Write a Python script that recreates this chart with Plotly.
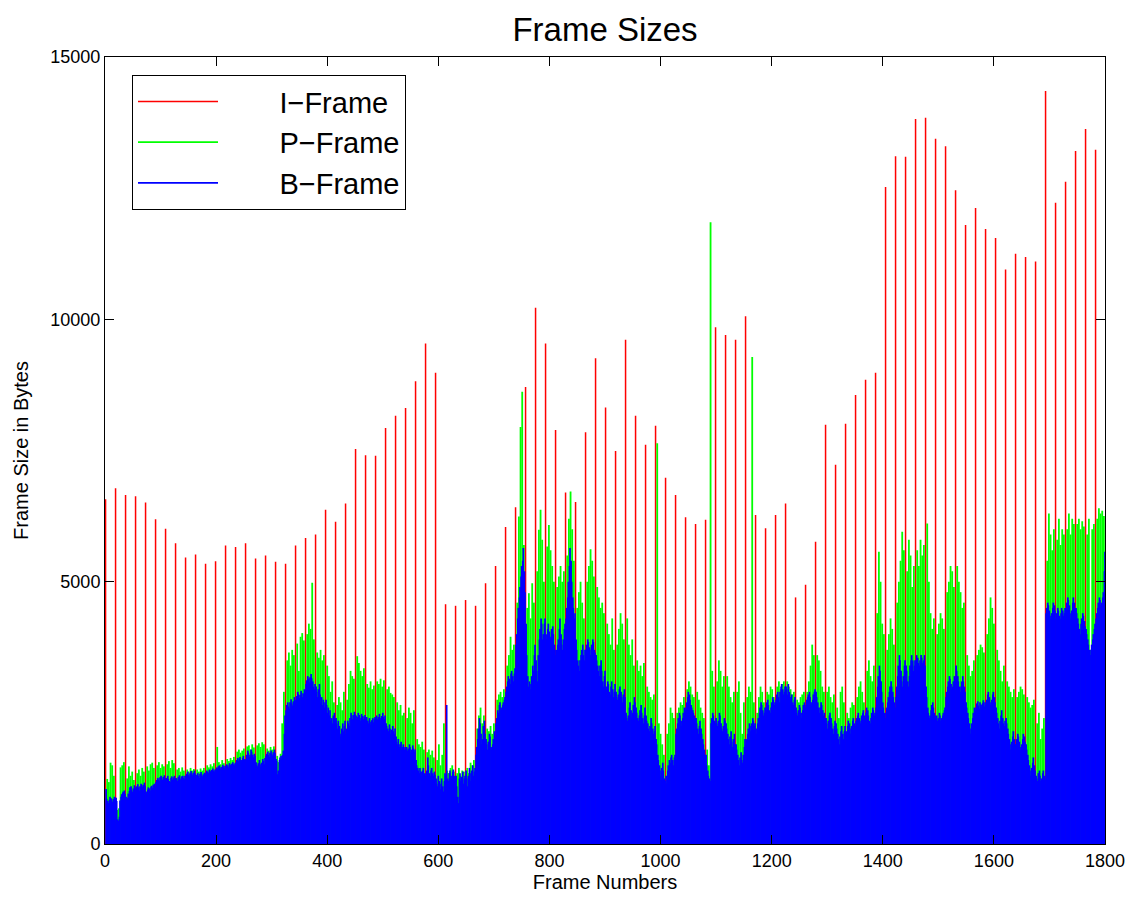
import numpy as np
import plotly.graph_objects as go

# ---------------- data (bytes) ----------------
# GOP structure: I B B P B B P B B P B B P B B P B B (18 frames), frames numbered from 1
gop_len = 18
p_offsets = [3, 6, 9, 12, 15]
b_offsets = [1, 2, 4, 5, 7, 8, 10, 11, 13, 14, 16, 17]

i_frames = [
    6570, 6780, 6650, 6630, 6510, 6190, 6010, 5730, 5460, 5520,
    5340, 5390, 5690, 5660, 5730, 5440, 5500, 5380, 5340, 5690,
    5830, 5900, 6370, 6140, 6490, 7530, 7410, 7400, 7930, 8160,
    8310, 8820, 9540, 8980, 4570, 4540, 4650, 4540, 4970, 5300,
    6040, 6420, 8710, 10220, 9540, 7890, 6700, 6520, 7850, 9260,
    8320, 7490, 9610, 8160, 7610, 7970, 6980, 6650, 6230, 6100,
    6180, 9850, 9700, 9610, 10060, 6270, 6020, 6270, 6490, 4700,
    4940, 5760, 7990, 7230, 8010, 8560, 8850, 8980, 12520, 13110,
    13100, 13820, 13840, 13440, 13300, 12460, 11800, 12120, 11720, 11550,
    10950, 11250, 11190, 11100, 14350, 12220, 12620, 13210, 13630, 13230,
]

p_frames = [
    [1240, 1180, 1550, 1500, 1300], [650, 680, 1460, 1500, 1560], [1250, 1480, 1300, 1380, 1220],
    [1350, 1420, 1300, 1450, 1380], [1480, 1400, 1520, 1550, 1450], [1500, 1560, 1450, 1520, 1480],
    [1520, 1580, 1450, 1600, 1540], [1420, 1450, 1380, 1460, 1400], [1420, 1380, 1450, 1400, 1430],
    [1420, 1380, 1440, 1400, 1450], [1500, 1460, 1520, 1480, 1540], [1850, 1560, 1520, 1600, 1540],
    [1620, 1580, 1640, 1600, 1660], [1760, 1800, 1740, 1780, 1820], [1860, 1880, 1800, 1900, 1840],
    [1880, 1920, 1850, 1940, 1900], [1820, 1780, 1850, 1800, 1860], [1680, 1560, 1720, 2300, 2900],
    [3500, 3650, 3400, 3700, 3600], [3820, 3300, 3950, 4020, 3880], [4000, 4200, 4100, 4980, 3900],
    [3650, 3550, 3700, 3500, 3600], [3400, 3200, 2900, 3100, 2700], [2650, 2800, 2700, 2550, 2900],
    [2750, 3050, 3300, 3200, 3150], [3580, 3450, 3300, 3200, 3350], [3050, 2980, 3100, 2950, 3020],
    [3100, 3050, 3150, 3000, 3120], [2950, 3000, 2880, 2850, 2800], [2700, 2550, 2650, 2450, 2500],
    [2400, 2600, 2500, 2300, 2550], [2000, 1900, 1850, 1950, 1800], [1750, 1800, 1700, 1780, 1650],
    [1600, 1900, 1500, 1700, 2300], [1400, 1350, 1450, 1500, 1380], [1350, 1450, 1300, 1400, 1380],
    [1450, 1350, 1550, 1500, 1600], [2200, 2450, 2600, 2300, 2450], [2200, 2150, 2250, 2100, 2300],
    [2750, 2850, 2900, 2800, 2950], [3400, 3600, 3950, 3700, 3800], [4600, 6240, 7950, 8620, 5700],
    [4500, 4780, 4300, 4970, 4600], [5200, 5990, 6370, 5800, 5000], [5670, 6080, 5600, 5300, 5000],
    [4900, 5100, 5300, 5000, 5200], [5500, 6200, 6720, 6000, 5400], [4500, 4800, 5000, 4600, 4300],
    [5000, 5300, 5620, 5400, 5100], [4900, 4700, 4500, 4600, 4400], [4200, 4000, 3800, 4300, 3700],
    [3800, 4100, 4400, 4200, 3900], [4300, 3800, 3600, 3900, 3400], [3500, 3300, 3400, 3200, 3450],
    [3000, 2900, 2800, 2750, 2850], [7640, 2300, 2100, 1900, 1700], [2100, 2300, 2600, 2500, 2400],
    [2500, 2600, 2700, 2650, 2800], [2950, 3100, 3000, 2850, 2800], [2900, 2750, 2600, 2500, 2400],
    [1800, 1500, 11850, 3300, 3000], [3100, 3500, 3300, 3000, 3200], [3200, 3000, 2800, 2700, 2900],
    [2900, 3100, 2500, 2100, 2700], [2800, 3000, 2900, 9280, 2700], [2500, 2800, 3000, 2900, 2700],
    [2900, 2850, 3000, 2950, 2800], [3000, 3100, 2950, 3050, 3100], [3100, 3000, 2950, 2850, 2900],
    [2750, 2700, 2800, 2850, 2900], [2900, 3100, 3400, 3800, 3600], [3600, 3500, 3300, 3000, 2900],
    [2900, 3000, 2800, 2700, 2850], [2600, 2400, 2900, 3000, 2700], [2500, 2400, 2600, 2700, 2650],
    [2800, 3000, 3100, 2900, 2700], [3300, 3500, 3200, 3100, 3400], [4400, 5570, 5000, 4200, 4000],
    [3700, 4000, 4300, 4100, 3800], [4600, 5000, 5400, 5950, 5600], [5200, 5800, 5500, 4900, 5300],
    [5600, 5300, 5800, 5500, 5700], [6110, 5000, 4400, 4100, 4300], [4000, 4200, 4400, 4300, 4100],
    [4800, 5000, 5300, 5200, 4900], [5300, 5000, 4800, 4500, 4600], [3600, 3400, 3200, 3300, 3500],
    [3600, 3700, 3800, 3750, 3650], [4000, 4300, 4700, 4500, 4200], [3700, 3500, 3300, 3100, 3400],
    [3100, 3000, 2900, 2800, 2950], [2800, 2900, 3000, 2950, 2850], [2800, 2700, 2600, 2650, 2750],
    [2300, 2500, 2000, 2200, 2400], [5400, 6300, 5900, 5600, 6000], [5800, 6200, 5700, 6000, 5900],
    [6000, 6300, 5900, 6200, 6100], [6100, 6200, 6000, 6150, 6050], [5900, 6200, 3700, 6000, 6100],
    [6200, 6400, 6300, 6350, 6250],
]

b_frames = [
    [1050, 860, 820, 780, 840, 900, 870, 830, 800, 860, 900, 880],
    [880, 820, 470, 440, 520, 830, 900, 950, 980, 1000, 1020, 960],
    [900, 840, 880, 960, 1010, 1080, 1100, 1020, 990, 1060, 1120, 1080],
    [1060, 1100, 1140, 1080, 1020, 1100, 1150, 1120, 1090, 1130, 1170, 1110],
    [1000, 960, 1040, 1080, 1060, 1020, 1090, 1110, 1070, 1130, 1150, 1100],
    [1180, 1220, 1260, 1230, 1200, 1270, 1300, 1250, 1220, 1280, 1310, 1260],
    [1220, 1260, 1300, 1240, 1200, 1180, 1260, 1290, 1230, 1270, 1300, 1250],
    [1260, 1230, 1200, 1280, 1310, 1250, 1220, 1290, 1300, 1260, 1240, 1300],
    [1300, 1340, 1380, 1320, 1290, 1350, 1390, 1340, 1310, 1360, 1400, 1350],
    [1320, 1280, 1350, 1300, 1260, 1340, 1370, 1310, 1290, 1330, 1360, 1320],
    [1360, 1400, 1380, 1350, 1420, 1390, 1370, 1410, 1440, 1400, 1380, 1420],
    [1420, 1460, 1440, 1480, 1500, 1460, 1430, 1470, 1510, 1480, 1450, 1490],
    [1480, 1520, 1500, 1460, 1540, 1510, 1490, 1530, 1560, 1520, 1500, 1540],
    [1560, 1600, 1640, 1580, 1620, 1660, 1600, 1570, 1640, 1680, 1620, 1600],
    [1620, 1700, 1780, 1740, 1660, 1700, 1800, 1760, 1700, 1650, 1720, 1680],
    [1560, 1500, 1480, 1540, 1600, 1520, 1470, 1550, 1620, 1580, 1520, 1640],
    [1680, 1720, 1760, 1700, 1660, 1740, 1780, 1720, 1690, 1750, 1800, 1740],
    [1620, 1580, 1330, 1400, 1600, 1650, 1680, 1620, 1700, 1780, 2100, 2450],
    [2550, 2650, 2700, 2620, 2580, 2700, 2760, 2680, 2640, 2720, 2800, 2740],
    [2750, 2820, 2900, 2860, 2780, 2840, 2920, 2880, 2800, 2870, 2950, 2900],
    [3050, 3120, 3200, 3150, 3080, 3180, 3240, 3160, 3100, 3000, 2950, 3050],
    [3000, 2900, 2800, 2950, 3050, 2850, 2700, 2800, 2650, 2750, 2600, 2700],
    [2750, 2650, 2500, 2600, 2450, 2550, 2350, 2400, 2300, 2450, 2500, 2380],
    [2400, 2300, 2200, 2350, 2250, 2100, 2050, 2200, 2300, 2150, 2250, 2350],
    [2100, 2200, 2350, 2300, 2250, 2400, 2500, 2450, 2380, 2460, 2520, 2480],
    [2450, 2380, 2420, 2500, 2460, 2350, 2400, 2480, 2440, 2380, 2420, 2460],
    [2380, 2420, 2350, 2300, 2400, 2330, 2280, 2360, 2400, 2320, 2380, 2420],
    [2400, 2450, 2380, 2420, 2480, 2400, 2360, 2440, 2500, 2420, 2380, 2450],
    [2300, 2250, 2200, 2150, 2280, 2200, 2100, 2180, 2250, 2150, 2100, 2200],
    [2050, 1950, 1900, 2000, 1850, 1900, 1950, 1800, 1850, 1900, 1800, 1850],
    [1800, 1850, 1780, 1820, 1900, 1850, 1750, 1800, 1880, 1820, 1760, 1800],
    [1600, 1500, 1450, 1400, 1350, 1450, 1380, 1300, 1400, 1450, 1350, 1300],
    [1350, 1400, 1650, 1500, 1350, 1300, 1400, 1450, 1350, 1300, 1380, 1320],
    [1250, 1150, 1100, 1300, 1200, 1050, 1150, 1250, 1100, 1000, 1200, 1350],
    [1300, 2650, 1250, 1200, 1350, 1400, 1300, 1250, 1380, 1420, 1300, 1280],
    [1300, 1100, 900, 780, 1250, 1350, 1200, 1280, 1380, 1150, 1250, 1300],
    [1400, 1250, 1100, 1300, 1450, 1350, 1200, 1400, 1500, 1300, 1380, 1450],
    [1700, 1850, 2000, 2200, 2400, 2300, 2100, 1900, 2000, 2250, 2350, 2100],
    [2000, 1900, 1800, 1950, 2100, 2050, 1850, 1800, 1900, 2000, 2150, 2050],
    [2300, 2400, 2550, 2500, 2650, 2700, 2600, 2550, 2650, 2700, 2750, 2800],
    [2900, 3000, 3100, 3200, 3150, 3050, 3250, 3300, 3200, 3100, 3250, 3350],
    [3800, 4000, 4300, 4500, 4700, 4900, 5100, 5300, 5400, 5640, 5200, 4800],
    [4200, 3600, 3200, 3000, 3100, 3050, 2950, 3200, 3400, 3300, 3600, 3800],
    [3500, 3300, 3100, 3600, 3900, 4100, 4300, 4200, 3900, 4000, 4200, 4300],
    [4000, 3900, 4100, 4200, 4050, 3950, 3900, 4100, 4150, 4000, 3800, 3700],
    [3600, 3700, 3800, 3900, 4100, 4300, 4000, 3800, 3700, 3900, 4100, 4200],
    [4300, 4500, 4700, 5000, 5300, 5640, 5400, 5000, 4700, 4500, 4300, 4400],
    [3900, 3700, 3500, 3400, 3300, 3500, 3600, 3700, 3800, 3600, 3500, 3700],
    [3700, 3800, 3900, 3850, 3750, 3600, 3700, 3800, 3900, 3850, 3700, 3650],
    [3600, 3500, 3400, 3300, 3200, 3400, 3500, 3300, 3100, 3000, 3200, 3300],
    [3000, 2950, 3100, 3050, 2900, 2850, 3000, 3100, 2950, 2800, 2900, 3050],
    [2900, 2800, 2750, 2850, 2950, 3000, 2900, 2800, 2700, 2850, 2950, 2800],
    [2500, 2400, 2350, 2450, 2600, 2700, 2550, 2400, 2500, 2650, 2800, 2700],
    [2600, 2500, 2400, 2350, 2450, 2550, 2650, 2500, 2400, 2300, 2450, 2600],
    [2450, 2350, 2300, 2200, 2150, 2250, 2400, 2300, 2200, 2100, 2150, 2250],
    [2000, 1900, 1700, 1600, 1500, 1400, 1300, 1450, 1550, 1400, 1250, 1200],
    [1300, 1150, 1400, 1500, 1600, 1550, 1650, 1700, 1600, 1500, 1650, 1700],
    [2100, 2200, 2300, 2400, 2500, 2450, 2350, 2250, 2400, 2500, 2600, 2550],
    [2600, 2700, 2800, 2900, 2850, 2750, 2650, 2600, 2550, 2500, 2450, 2400],
    [2400, 2300, 2200, 2100, 2250, 2350, 2200, 2100, 2000, 1900, 1800, 1700],
    [1700, 1500, 1400, 1300, 1250, 1200, 2300, 2400, 2500, 2450, 2350, 2300],
    [2400, 2300, 2250, 2350, 2500, 2450, 2300, 2200, 2150, 2250, 2400, 2350],
    [2300, 2200, 2100, 2000, 1900, 2050, 2150, 1950, 1850, 2000, 2100, 1900],
    [1900, 1800, 1700, 1600, 1500, 1650, 1750, 1600, 1550, 1700, 1850, 2000],
    [1900, 2000, 2100, 2200, 2300, 2250, 2150, 2300, 2400, 2350, 2250, 2300],
    [2200, 2100, 2300, 2400, 2500, 2600, 2700, 2650, 2550, 2450, 2500, 2600],
    [2600, 2700, 2750, 2650, 2550, 2500, 2600, 2700, 2800, 2750, 2650, 2700],
    [2750, 2850, 2900, 2800, 2700, 2900, 3000, 3050, 2950, 2850, 2900, 3000],
    [3000, 2950, 2850, 3050, 2900, 2800, 2750, 2850, 2700, 2650, 2750, 2800],
    [2600, 2500, 2450, 2550, 2650, 2600, 2500, 2400, 2550, 2650, 2700, 2600],
    [2650, 2750, 2800, 2850, 2900, 2800, 2700, 2650, 2750, 2850, 2900, 2950],
    [2900, 2800, 2700, 2600, 2500, 2600, 2700, 2650, 2550, 2450, 2500, 2400],
    [2400, 2300, 2200, 2350, 2450, 2500, 2400, 2300, 2200, 2100, 2250, 2350],
    [2300, 2200, 2100, 2000, 1900, 2050, 2150, 2250, 2100, 2000, 2150, 2250],
    [2100, 2150, 2250, 2350, 2300, 2200, 2100, 2250, 2350, 2400, 2300, 2250],
    [2350, 2400, 2450, 2500, 2400, 2300, 2350, 2450, 2500, 2550, 2450, 2400],
    [2500, 2600, 2550, 2450, 2350, 2300, 2400, 2500, 2600, 2550, 2450, 2500],
    [2600, 2800, 3000, 3200, 3400, 3300, 3100, 2900, 2700, 2600, 2500, 2400],
    [2500, 2600, 2700, 2800, 2900, 3000, 3100, 3000, 2900, 2800, 2700, 2600],
    [2800, 3000, 3200, 3400, 3600, 3500, 3300, 3100, 3000, 3200, 3400, 3500],
    [3400, 3300, 3100, 3000, 3200, 3400, 3500, 3600, 3500, 3300, 3400, 3500],
    [3500, 3600, 3550, 3450, 3400, 3500, 3600, 3550, 3450, 3500, 3600, 3400],
    [3000, 2800, 2600, 2500, 2400, 2450, 2550, 2650, 2700, 2600, 2500, 2450],
    [2400, 2450, 2350, 2400, 2500, 2450, 2350, 2400, 2450, 2500, 2550, 2600],
    [2800, 2900, 3000, 3100, 3200, 3150, 3050, 2950, 3000, 3100, 3200, 3150],
    [3400, 3300, 3200, 3100, 3000, 2900, 3000, 3100, 3200, 3100, 3000, 2900],
    [2700, 2600, 2500, 2400, 2300, 2200, 2100, 2300, 2400, 2500, 2600, 2550],
    [2600, 2680, 2720, 2640, 2580, 2700, 2660, 2610, 2690, 2740, 2620, 2700],
    [2650, 2750, 2850, 2900, 2800, 2700, 2650, 2750, 2850, 2900, 2800, 2700],
    [2600, 2500, 2400, 2300, 2200, 2350, 2450, 2550, 2400, 2300, 2250, 2350],
    [2400, 2300, 2200, 2100, 2000, 1900, 1800, 1950, 2050, 2150, 2000, 1900],
    [1900, 2000, 2100, 2050, 1950, 1850, 1800, 1900, 2000, 2100, 2050, 1950],
    [1900, 1800, 1700, 1600, 1500, 1400, 1300, 1450, 1550, 1650, 1500, 1400],
    [1300, 1250, 1200, 1350, 1400, 1300, 1200, 1250, 1350, 1400, 1300, 1250],
    [4400, 4500, 4600, 4550, 4450, 4350, 4300, 4400, 4500, 4600, 4550, 4450],
    [4300, 4400, 4500, 4450, 4350, 4300, 4400, 4500, 4450, 4350, 4400, 4500],
    [4500, 4600, 4700, 4650, 4550, 4400, 4300, 4450, 4600, 4700, 4600, 4500],
    [4500, 4400, 4300, 4200, 4100, 4000, 4200, 4300, 4400, 4350, 4250, 4150],
    [4100, 4000, 3900, 3800, 3700, 3600, 3700, 3800, 3900, 4000, 4100, 4200],
    [4300, 4400, 4500, 4600, 4700, 4650, 4550, 4600, 4700, 4800, 5200, 5570],
]

x_ticks = [0, 200, 400, 600, 800, 1000, 1200, 1400, 1600, 1800]
y_ticks = [0, 5000, 10000, 15000]
y_tick_text = ["0", "5000", "10000", "15000"]
series_names = ["I\u2212Frame", "P\u2212Frame", "B\u2212Frame"]

# ---------------- build stems ----------------
def stems(frames, values):
    f = np.asarray(frames, dtype=float)
    v = np.asarray(values, dtype=float)
    n = len(f)
    xs = np.empty(3 * n); ys = np.empty(3 * n)
    xs[0::3] = f; xs[1::3] = f; xs[2::3] = np.nan
    ys[0::3] = 0; ys[1::3] = v; ys[2::3] = np.nan
    return xs, ys

n_gop = len(i_frames)
starts = 1 + gop_len * np.arange(n_gop)
p_x = (starts[:, None] + np.array(p_offsets)[None, :]).ravel()
b_x = (starts[:, None] + np.array(b_offsets)[None, :]).ravel()
p_v = np.array(p_frames).ravel()
b_v = np.array(b_frames).ravel()

ix, iy = stems(starts, i_frames)
px, py = stems(p_x, p_v)
bx, by = stems(b_x, b_v)

pad = "\u00a0" * 7  # legend strings were padded with leading spaces in the original
fig = go.Figure()
fig.add_trace(go.Scatter(x=ix, y=iy, mode="lines", name=pad + series_names[0],
                         line=dict(color="#ff0000", width=1.5), hoverinfo="skip"))
fig.add_trace(go.Scatter(x=px, y=py, mode="lines", name=pad + series_names[1],
                         line=dict(color="#00ff00", width=1.8), hoverinfo="skip"))
fig.add_trace(go.Scatter(x=bx, y=by, mode="lines", name=pad + series_names[2],
                         line=dict(color="#0000ff", width=1.7), hoverinfo="skip"))

font_family = "Liberation Sans, Arial, Helvetica, sans-serif"
fig.update_layout(
    width=1131, height=899,
    margin=dict(l=105, r=26, t=57, b=55, autoexpand=False),
    paper_bgcolor="white", plot_bgcolor="white",
    font=dict(family=font_family, color="black", size=18),
    title=dict(text="Frame Sizes", x=605 / 1131, xanchor="center", y=1 - 29 / 899, yanchor="middle",
               font=dict(size=33, family=font_family, color="black")),
    showlegend=True,
    legend=dict(x=0.027, y=0.977, xanchor="left", yanchor="top",
                bgcolor="white", bordercolor="black", borderwidth=1,
                font=dict(size=29, family=font_family, color="black"),
                itemwidth=80, tracegroupgap=0),
)
fig.update_xaxes(range=[0, 1800], tickvals=x_ticks, ticks="inside", ticklen=9, tickcolor="black",
                 showline=True, linecolor="black", linewidth=1, mirror="ticks",
                 showgrid=False, zeroline=False, automargin=False,
                 tickfont=dict(size=18),
                 title=dict(text="Frame Numbers", font=dict(size=20), standoff=4))
fig.update_yaxes(range=[0, 15000], tickvals=y_ticks, ticktext=y_tick_text,
                 ticks="inside", ticklen=9, tickcolor="black",
                 showline=True, linecolor="black", linewidth=1, mirror="ticks",
                 showgrid=False, zeroline=False, automargin=False,
                 tickfont=dict(size=18),
                 title=dict(text="Frame Size in Bytes", font=dict(size=20), standoff=16))

# remove the browser's default 8px page margin so the figure sits at the window origin
fig.write_html("out.html",
               config={"displayModeBar": False},
               post_script="document.body.style.margin='0';document.body.style.overflow='hidden';")
